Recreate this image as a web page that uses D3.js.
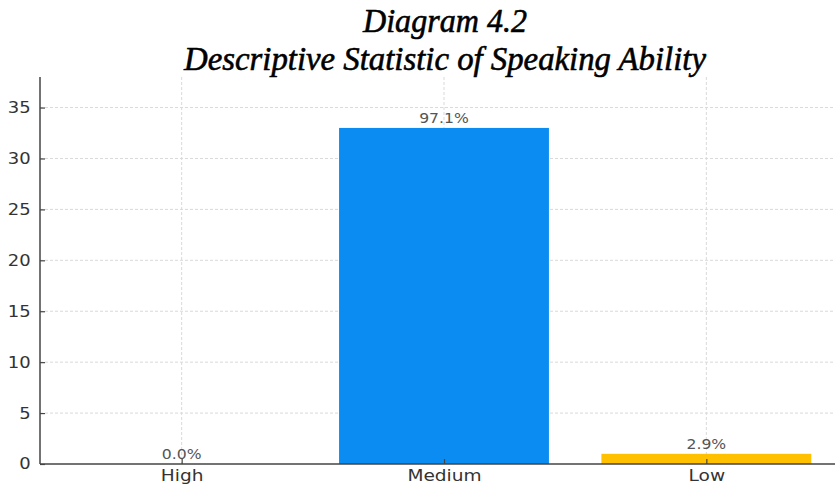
<!DOCTYPE html>
<html>
<head>
<meta charset="utf-8">
<script src="https://cdn.jsdelivr.net/npm/d3@7"></script>
<style>
  html, body { margin: 0; padding: 0; background: #fff; }
  svg { display: block; }
</style>
</head>
<body>
<svg id="chart" width="835" height="486"></svg>
<script>
// Speaking ability levels and respondent counts
const categories = ["High", "Medium", "Low"];
const counts = [0, 33, 1];
const percentLabels = ["0.0%", "97.1%", "2.9%"];
const barColors = ["#0a8cf2", "#0a8cf2", "#ffc000"];
const yTicks = [0, 5, 10, 15, 20, 25, 30, 35];
const titleLines = ["Diagram 4.2", "Descriptive Statistic of Speaking Ability"];

const svg = d3.select("#chart");

// Plot area: the right part of the axes runs past the page edge
const plot = { left: 40, top: 77, bottom: 464, right: 848 };

// Category positions in data units, as in a bar plot with 0.8-wide bars
const x = d3.scaleLinear().domain([-0.54, 2.54]).range([plot.left, plot.right]);
const y = d3.scaleLinear().domain([0, 38]).range([plot.bottom, plot.top]);
const barWidth = 0.8;

const gridColor = "#d9d9d9";
const stretch = 1.16;   // labels are drawn slightly wide

// Horizontal grid lines
svg.append("g")
  .selectAll("line")
  .data(yTicks.filter(t => t > 0))
  .join("line")
  .attr("x1", plot.left).attr("x2", plot.right)
  .attr("y1", d => y(d)).attr("y2", d => y(d))
  .attr("stroke", gridColor).attr("stroke-width", 1)
  .attr("stroke-dasharray", "3,2");

// Vertical grid lines at each category
svg.append("g")
  .selectAll("line")
  .data(categories)
  .join("line")
  .attr("x1", (d, i) => x(i)).attr("x2", (d, i) => x(i))
  .attr("y1", plot.top).attr("y2", plot.bottom)
  .attr("stroke", gridColor).attr("stroke-width", 1)
  .attr("stroke-dasharray", "3,2");

// Bars
svg.append("g")
  .selectAll("rect")
  .data(counts)
  .join("rect")
  .attr("x", (d, i) => x(i - barWidth / 2))
  .attr("width", (d, i) => x(i + barWidth / 2) - x(i - barWidth / 2))
  .attr("y", d => y(d))
  .attr("height", d => y(0) - y(d))
  .attr("fill", (d, i) => barColors[i]);

// Percentage labels above each bar
svg.append("g")
  .selectAll("text")
  .data(counts)
  .join("text")
  .attr("transform", (d, i) => `translate(${x(i)},${y(d) - 5}) scale(${stretch},1)`)
  .attr("text-anchor", "middle")
  .attr("font-family", "DejaVu Sans, sans-serif")
  .attr("font-size", 13.5)
  .attr("fill", "#555")
  .text((d, i) => percentLabels[i]);

// Y axis
const yAxis = d3.axisLeft(y).tickValues(yTicks).tickSize(-5).tickPadding(8);
const gy = svg.append("g")
  .attr("transform", `translate(${plot.left},0)`)
  .call(yAxis);
gy.select(".domain").attr("stroke", "#444").attr("stroke-width", 1.5)
  .attr("d", `M0,${plot.top}V${plot.bottom}`);
gy.selectAll(".tick line").attr("stroke", "#444").attr("stroke-width", 1.2);
gy.selectAll(".tick text")
  .attr("font-family", "DejaVu Sans, sans-serif")
  .attr("font-size", 15.5)
  .attr("fill", "#333")
  .attr("transform", `translate(-7,0) scale(${stretch},1)`)
  .attr("x", -2);

// X axis
const xAxis = d3.axisBottom(x)
  .tickValues(d3.range(categories.length))
  .tickFormat(i => categories[i])
  .tickSize(-5).tickPadding(6);
const gx = svg.append("g")
  .attr("transform", `translate(0,${plot.bottom})`)
  .call(xAxis);
gx.select(".domain").attr("stroke", "#444").attr("stroke-width", 1.5)
  .attr("d", `M${plot.left},0H${plot.right}`);
gx.selectAll(".tick line").attr("stroke", "#444").attr("stroke-width", 1.2);
gx.selectAll(".tick text")
  .attr("font-family", "DejaVu Sans, sans-serif")
  .attr("font-size", 16)
  .attr("fill", "#333")
  .attr("transform", `scale(${stretch},1)`);

// Two-line italic title
const titleSpec = [
  { y: 32, width: 164 },
  { y: 70, width: 522 }
];
svg.append("g")
  .selectAll("text")
  .data(titleLines)
  .join("text")
  .attr("x", 445)
  .attr("y", (d, i) => titleSpec[i].y)
  .attr("text-anchor", "middle")
  .attr("font-family", "Liberation Serif, Times New Roman, serif")
  .attr("font-style", "italic")
  .attr("font-size", 34)
  .attr("fill", "#000")
  .attr("stroke", "#000")
  .attr("stroke-width", 0.6)
  .attr("textLength", (d, i) => titleSpec[i].width)
  .attr("lengthAdjust", "spacingAndGlyphs")
  .text(d => d);
</script>
</body>
</html>
